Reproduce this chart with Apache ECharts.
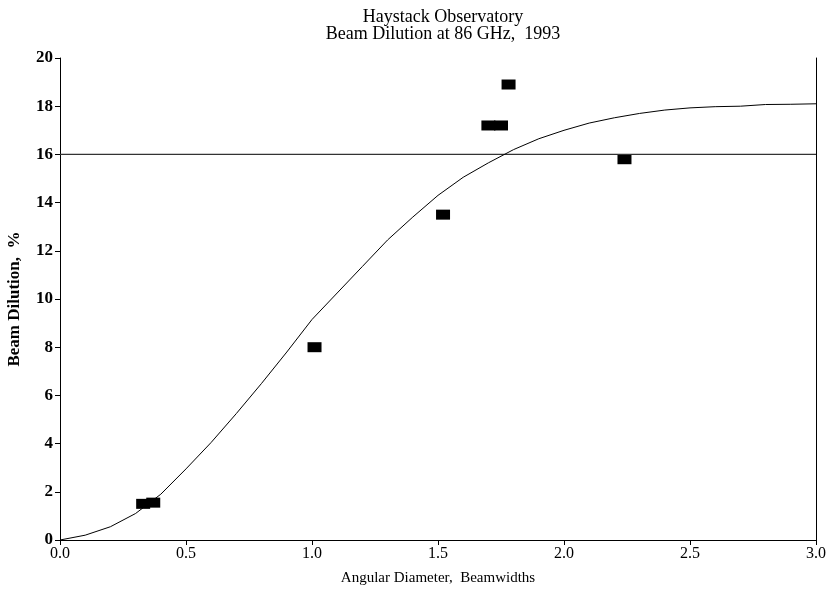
<!DOCTYPE html>
<html>
<head>
<meta charset="utf-8">
<script src="https://cdn.jsdelivr.net/npm/echarts@6/dist/echarts.min.js"></script>
<style>html,body{margin:0;padding:0;background:#fff}#c{width:829px;height:589px}</style>
</head>
<body>
<div id="c"></div>
<script>
// Model curve: angular diameter (beamwidths) vs beam dilution (%)
var curveX = [0.0,0.1,0.2,0.3,0.4,0.5,0.6,0.7,0.8,0.9,1.0,1.1,1.2,1.3,1.4,1.5,1.6,1.7,1.8,1.9,2.0,2.1,2.2,2.3,2.4,2.5,2.6,2.7,2.8,2.9,3.0];
var curveY = [0.0,0.2,0.55,1.1,1.9,2.95,4.05,5.25,6.5,7.8,9.15,10.25,11.35,12.45,13.4,14.3,15.05,15.65,16.2,16.65,17.0,17.3,17.52,17.7,17.84,17.93,17.98,18.0,18.07,18.08,18.1];
// Measured points
var measX = [0.33,0.37,1.01,1.52,1.70,1.75,1.78,2.24];
var measY = [1.5,1.55,8.0,13.5,17.2,17.2,18.9,15.8];
// Reference level
var refX = [0.0,3.0];
var refY = [16,16];
var xTicks = ['0.0','0.5','1.0','1.5','2.0','2.5','3.0'];
var titleLines = ['Haystack Observatory','Beam Dilution at 86 GHz,  1993'];

function pairs(a,b){return a.map(function(v,i){return [v,b[i]];});}
var serif = '"Liberation Serif",serif';
var chart = echarts.init(document.getElementById('c'));
chart.setOption({
  animation:false,
  backgroundColor:'#fff',
  title:{text:titleLines.join('\n'),left:438,textAlign:'center',top:4,
    textStyle:{fontFamily:serif,fontSize:18,fontWeight:'normal',color:'#000',lineHeight:17}},
  grid:{left:60,right:13,top:58,bottom:49,containLabel:false,outerBoundsMode:'none'},
  xAxis:{type:'value',min:0,max:3,interval:0.5,
    name:'Angular Diameter,  Beamwidths',nameLocation:'middle',nameGap:31,
    nameTextStyle:{fontFamily:serif,fontSize:15,color:'#000'},
    axisLine:{lineStyle:{color:'#000',width:1}},
    axisTick:{length:5,lineStyle:{color:'#000'}},
    axisLabel:{fontFamily:serif,fontSize:16,color:'#000',margin:6,
      formatter:function(v){var i=Math.round(v*2);return xTicks[i];}},
    splitLine:{show:false}},
  yAxis:[{type:'value',min:0,max:20,interval:2,
    name:'Beam Dilution,  %',nameLocation:'middle',nameGap:37,
    nameTextStyle:{fontFamily:serif,fontSize:17,fontWeight:'bold',color:'#000'},
    axisLine:{show:true,lineStyle:{color:'#000',width:1}},
    axisTick:{show:true,length:5,lineStyle:{color:'#000'}},
    axisLabel:{fontFamily:serif,fontSize:17,fontWeight:'bold',color:'#000',margin:7},
    splitLine:{show:false}},
   {type:'value',min:0,max:20,position:'right',
    axisLine:{show:true,lineStyle:{color:'#000',width:1}},
    axisTick:{show:false},axisLabel:{show:false},splitLine:{show:false}}],
  series:[
    {type:'line',data:pairs(refX,refY),symbol:'none',silent:true,
      lineStyle:{color:'#333',width:1.2}},
    {type:'line',data:pairs(curveX,curveY),symbol:'none',smooth:false,
      lineStyle:{color:'#000',width:1}},
    {type:'scatter',data:pairs(measX,measY),symbol:'rect',symbolSize:[14,10],
      itemStyle:{color:'#000',opacity:1}}
  ]
});
</script>
</body>
</html>
